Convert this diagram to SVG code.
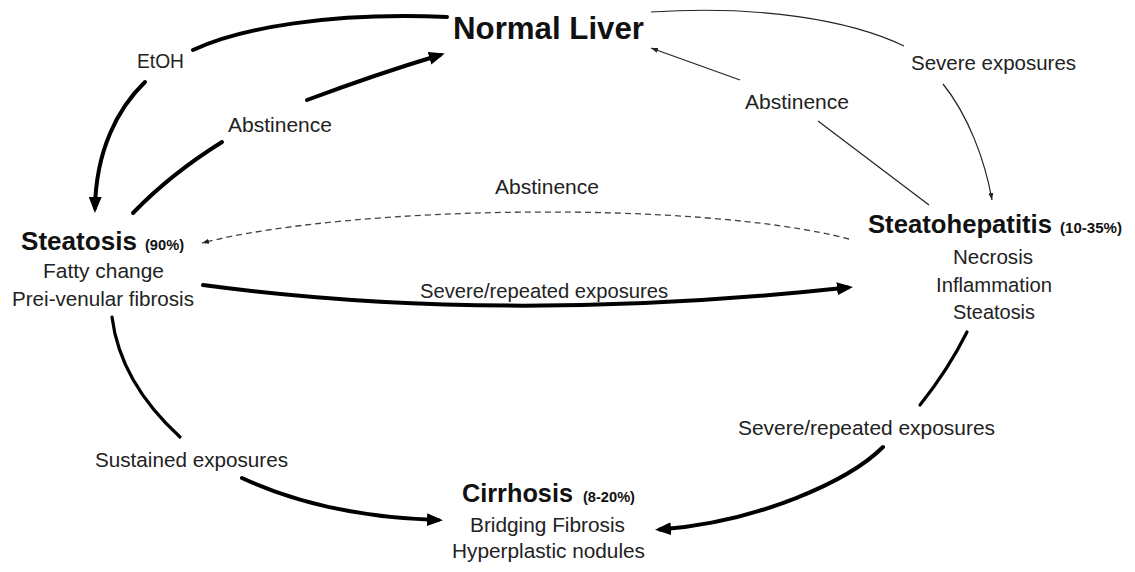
<svg xmlns="http://www.w3.org/2000/svg" width="1135" height="572" viewBox="0 0 1135 572">
  <style>
    .title { font-family: "Liberation Sans", Arial, sans-serif; font-weight: bold; fill: #111; }
    .pct { font-family: "Liberation Sans", Arial, sans-serif; font-weight: bold; font-size: 15px; fill: #111; }
    .sub { font-family: "Liberation Sans", Arial, sans-serif; font-size: 20.5px; fill: #222; }
    .lbl { font-family: "Liberation Sans", Arial, sans-serif; font-size: 20.5px; fill: #222; }
    .thick { fill: none; stroke: #000; stroke-width: 4; stroke-linecap: round; }
    .mid { fill: none; stroke: #000; stroke-width: 3.2; stroke-linecap: round; }
    .thin { fill: none; stroke: #222; stroke-width: 1.2; }
    .dash { fill: none; stroke: #444; stroke-width: 1.3; stroke-dasharray: 6 4; }
  </style>
  <defs>
    <marker id="bigArrow" markerUnits="userSpaceOnUse" markerWidth="17" markerHeight="14" refX="11" refY="6.5" orient="auto">
      <path d="M0,0 L16,6.5 L0,13 Z" fill="#000"/>
    </marker>
    <marker id="smallArrow" markerUnits="userSpaceOnUse" markerWidth="8" markerHeight="6" refX="7" refY="2.5" orient="auto">
      <path d="M0,0 L7,2.5 L0,5 Z" fill="#222"/>
    </marker>
  </defs>
  <rect width="1135" height="572" fill="#fff"/>

  <g id="connectors">
    <g id="e-etoh">
      <path class="thick" d="M447,17 C330,12 240,28 193,50"/>
      <path class="thick" d="M145,82 C118,108 96,150 95,208" marker-end="url(#bigArrow)"/>
      <text class="lbl" x="137" y="68" textLength="47" lengthAdjust="spacingAndGlyphs">EtOH</text>
    </g>
    <g id="e-abst-left">
      <path class="thick" d="M133,213 C160,185 190,162 222,142"/>
      <path class="thick" d="M307,100 C350,84 400,67 440,55" marker-end="url(#bigArrow)"/>
      <text class="lbl" x="228" y="132" textLength="104" lengthAdjust="spacingAndGlyphs">Abstinence</text>
    </g>
    <g id="e-severe">
      <path class="thin" d="M651,12 C760,5 850,20 904,46"/>
      <path class="thin" d="M943,84 C968,115 985,160 992,200" marker-end="url(#smallArrow)"/>
      <text class="lbl" x="911" y="70" textLength="165" lengthAdjust="spacingAndGlyphs">Severe exposures</text>
    </g>
    <g id="e-abst-right">
      <path class="thin" d="M929,205 L818,121"/>
      <path class="thin" d="M740,80 L651,48" marker-end="url(#smallArrow)"/>
      <text class="lbl" x="745" y="109" textLength="104" lengthAdjust="spacingAndGlyphs">Abstinence</text>
    </g>
    <g id="e-abst-dashed">
      <path class="dash" d="M849,239 C700,200 350,205 202,243" marker-end="url(#smallArrow)"/>
      <text class="lbl" x="495" y="194" textLength="104" lengthAdjust="spacingAndGlyphs">Abstinence</text>
    </g>
    <g id="e-severe-repeated-mid">
      <path class="thick" d="M203,285 Q500,325 848,287.5" marker-end="url(#bigArrow)"/>
      <text class="lbl" x="420" y="298" textLength="248" lengthAdjust="spacingAndGlyphs">Severe/repeated exposures</text>
    </g>
    <g id="e-sustained">
      <path class="mid" d="M112,317 C118,365 145,405 180,437"/>
      <path class="thick" d="M242,478 C300,505 370,518 438,520" marker-end="url(#bigArrow)"/>
      <text class="lbl" x="95" y="467" textLength="193" lengthAdjust="spacingAndGlyphs">Sustained exposures</text>
    </g>
    <g id="e-severe-repeated-right">
      <path class="mid" d="M967,332 Q948,370 920,405"/>
      <path class="thick" d="M883,447 C850,480 760,522 660,529.5" marker-end="url(#bigArrow)"/>
      <text class="lbl" x="738" y="435" textLength="257" lengthAdjust="spacingAndGlyphs">Severe/repeated exposures</text>
    </g>
  </g>

  <g id="normal-liver">
    <text class="title" x="453" y="39" font-size="31" textLength="191" lengthAdjust="spacingAndGlyphs">Normal Liver</text>
  </g>

  <g id="steatosis">
    <text class="title" x="21" y="250" font-size="26" textLength="116" lengthAdjust="spacingAndGlyphs">Steatosis</text>
    <text class="pct" x="145" y="250" textLength="39" lengthAdjust="spacingAndGlyphs">(90%)</text>
    <text class="sub" x="43" y="278" textLength="121" lengthAdjust="spacingAndGlyphs">Fatty change</text>
    <text class="sub" x="12" y="306" textLength="182" lengthAdjust="spacingAndGlyphs">Prei-venular fibrosis</text>
  </g>

  <g id="steatohepatitis">
    <text class="title" x="868" y="233" font-size="26" textLength="184" lengthAdjust="spacingAndGlyphs">Steatohepatitis</text>
    <text class="pct" x="1060" y="233" textLength="62" lengthAdjust="spacingAndGlyphs">(10-35%)</text>
    <text class="sub" x="953" y="264" textLength="80" lengthAdjust="spacingAndGlyphs">Necrosis</text>
    <text class="sub" x="936" y="292" textLength="116" lengthAdjust="spacingAndGlyphs">Inflammation</text>
    <text class="sub" x="953" y="319" textLength="82" lengthAdjust="spacingAndGlyphs">Steatosis</text>
  </g>

  <g id="cirrhosis">
    <text class="title" x="462" y="502" font-size="26" textLength="111" lengthAdjust="spacingAndGlyphs">Cirrhosis</text>
    <text class="pct" x="583" y="502" textLength="52" lengthAdjust="spacingAndGlyphs">(8-20%)</text>
    <text class="sub" x="470" y="532" textLength="155" lengthAdjust="spacingAndGlyphs">Bridging Fibrosis</text>
    <text class="sub" x="452" y="558" textLength="193" lengthAdjust="spacingAndGlyphs">Hyperplastic nodules</text>
  </g>
</svg>
